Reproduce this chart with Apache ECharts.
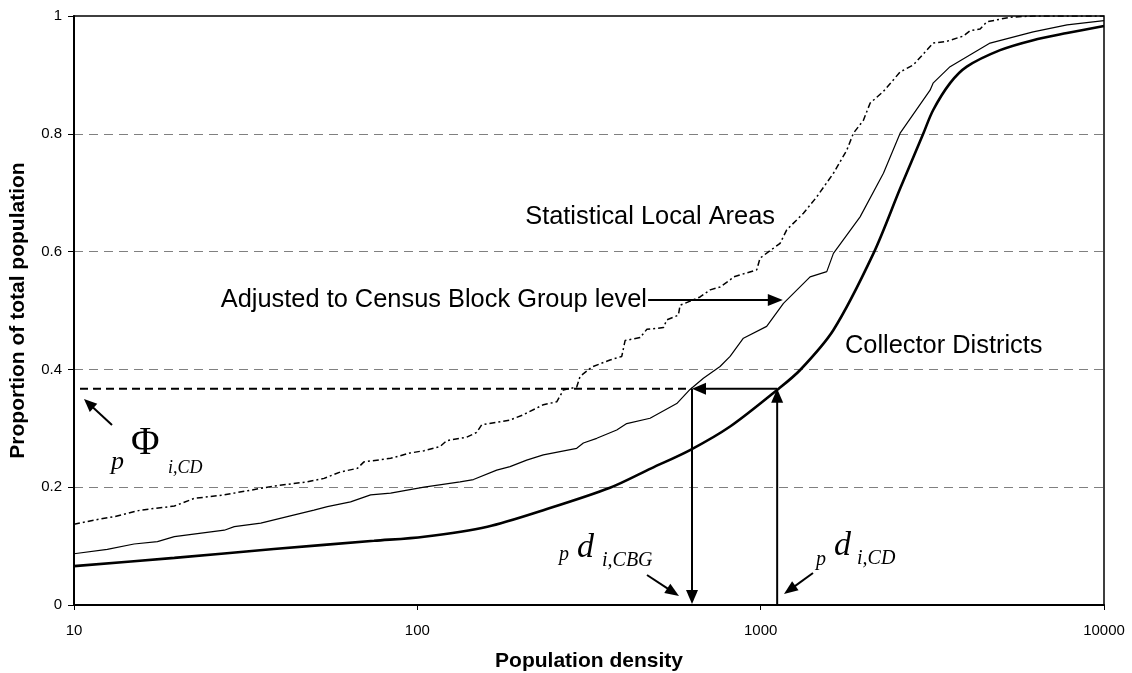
<!DOCTYPE html>
<html>
<head>
<meta charset="utf-8">
<script src="https://cdn.jsdelivr.net/npm/echarts@6/dist/echarts.min.js"></script>
<style>
html,body{margin:0;padding:0;background:#fff;}
#main{width:1132px;height:673px;}
</style>
</head>
<body>
<div id="main"></div>
<script>
// ---- data ----
const xTickValues = [10, 100, 1000, 10000];
const xTickLabels = ['10', '100', '1000', '10000'];
const yTickLabels = ['0', '0.2', '0.4', '0.6', '0.8', '1'];

// Statistical Local Areas  [population density, proportion]
const slaPoints = [[10,0.137],[11.4,0.144],[13.1,0.150],[15.6,0.161],[19.6,0.168],[22.4,0.181],[27.4,0.187],[32.0,0.194],[38.2,0.202],[47.8,0.209],[53.5,0.215],[59.8,0.226],[66.9,0.232],[69.9,0.243],[83.6,0.249],[95.2,0.258],[104.6,0.262],[116.4,0.269],[121.8,0.279],[139.3,0.285],[148.9,0.293],[154.0,0.306],[186.2,0.314],[203.6,0.323],[232.8,0.340],[254.7,0.345],[266.3,0.365],[291.2,0.370],[297.8,0.388],[322.2,0.404],[364.1,0.416],[393.9,0.422],[402.8,0.449],[445.5,0.454],[465.9,0.468],[521,0.471],[532.8,0.484],[575.9,0.492],[582.4,0.509],[636.8,0.518],[666,0.523],[712.3,0.535],[761.6,0.540],[814.6,0.552],[833,0.557],[974,0.569],[996,0.589],[1139,0.614],[1191,0.637],[1332,0.665],[1457,0.693],[1629,0.733],[1781,0.772],[1863,0.801],[1992,0.823],[2083,0.852],[2278,0.872],[2548,0.905],[2786,0.917],[3178,0.954],[3483,0.957],[3895,0.966],[4074,0.975],[4357,0.978],[4555,0.990],[5327,0.998],[6217,1.0],[10000,1.0]];

// Adjusted to Census Block Group level
const cbgPoints = [[10,0.087],[12.5,0.0945],[14.96,0.1036],[17.5,0.1075],[19.6,0.116],[27.4,0.127],[29.3,0.133],[35.0,0.139],[41.8,0.150],[50.0,0.161],[54.7,0.167],[63.9,0.175],[73.1,0.187],[83.6,0.190],[95.2,0.196],[104.6,0.200],[133.2,0.209],[145.7,0.213],[170.3,0.229],[186.2,0.235],[208.2,0.246],[232.8,0.255],[291.2,0.266],[304.5,0.275],[333.1,0.283],[380.9,0.297],[407.3,0.308],[476.2,0.317],[569.6,0.342],[622.7,0.366],[681,0.385],[761.6,0.405],[814.6,0.422],[890.6,0.453],[1041,0.473],[1165,0.512],[1393,0.557],[1558,0.566],[1629,0.597],[1948,0.659],[2278,0.733],[2548,0.801],[3115,0.874],[3178,0.886],[3562,0.914],[4658,0.954],[6217,0.973],[7806,0.985],[10000,0.992]];

// Collector Districts
const cdPoints = [[10,0.066],[19.6,0.080],[38.2,0.095],[74.8,0.109],[104.6,0.116],[160,0.133],[232.8,0.161],[364,0.199],[480,0.232],[622.7,0.263],[814.6,0.303],[1116,0.365],[1303,0.399],[1629,0.467],[2131,0.597],[2548,0.707],[2979,0.801],[3178,0.840],[3562,0.886],[3985,0.914],[4982,0.942],[6217,0.959],[7806,0.971],[10000,0.983]];

// annotation values
const levelPhi = 0.367;   // pΦ_i,CD
const dCBG = 631;         // pd_i,CBG
const dCD = 1117;         // pd_i,CD

const SANS = 'Liberation Sans, Arial, sans-serif';
const SERIF = 'Liberation Serif, Times New Roman, serif';

const option = {
  animation: false,
  backgroundColor: '#ffffff',
  grid: { left: 74, right: 28, top: 16, bottom: 68, containLabel: false, outerBoundsMode: 'none',
          show: true, borderColor: '#000', borderWidth: 1.5, backgroundColor: 'transparent' },
  xAxis: {
    type: 'log', logBase: 10, min: 10, max: 10000,
    name: 'Population density', nameLocation: 'middle', nameGap: 46,
    nameTextStyle: { fontFamily: SANS, fontWeight: 'bold', fontSize: 21, color: '#000' },
    axisLine: { show: true, onZero: false, lineStyle: { color: '#000', width: 2 } },
    axisTick: { show: true, length: 5, lineStyle: { color: '#000', width: 1 } },
    minorTick: { show: false },
    axisLabel: {
      margin: 18, fontFamily: SANS, fontSize: 15, color: '#000',
      formatter: function (v) {
        const k = xTickValues.findIndex(t => Math.abs(t - v) / t < 1e-6);
        return k >= 0 ? xTickLabels[k] : '';
      }
    },
    splitLine: { show: false }
  },
  yAxis: {
    type: 'value', min: 0, max: 1, interval: 0.2,
    name: 'Proportion of total population', nameLocation: 'middle', nameGap: 45,
    nameTextStyle: { fontFamily: SANS, fontWeight: 'bold', fontSize: 21, color: '#000' },
    axisLine: { show: true, lineStyle: { color: '#000', width: 2 } },
    axisTick: { show: true, length: 6, lineStyle: { color: '#000', width: 1 } },
    axisLabel: {
      margin: 12, fontFamily: SANS, fontSize: 15, color: '#000',
      formatter: function (v) { return yTickLabels[Math.round(v / 0.2)]; }
    },
    splitLine: { show: true, showMinLine: false, showMaxLine: false, lineStyle: { color: '#808080', width: 1, type: [9, 6] } }
  },
  series: [
    { name: 'Statistical Local Areas', type: 'line', data: slaPoints, showSymbol: false, symbol: 'none', silent: true,
      lineStyle: { color: '#000', width: 1.5, type: [6, 3, 2, 3] } },
    { name: 'Adjusted to Census Block Group level', type: 'line', data: cbgPoints, showSymbol: false, symbol: 'none', silent: true,
      lineStyle: { color: '#000', width: 1.2 } },
    { name: 'Collector Districts', type: 'line', data: cdPoints, showSymbol: false, symbol: 'none', silent: true,
      smooth: 0.3, lineStyle: { color: '#000', width: 2.6 } }
  ]
};

const chart = echarts.init(document.getElementById('main'), null, { renderer: 'canvas' });
chart.setOption(option);

const toPx = p => chart.convertToPixel({ xAxisIndex: 0, yAxisIndex: 0 }, p);

function arrow(p1, p2, headLen, headW, width) {
  const dx = p2[0] - p1[0], dy = p2[1] - p1[1];
  const len = Math.sqrt(dx * dx + dy * dy);
  const ux = dx / len, uy = dy / len;
  const bx = p2[0] - ux * headLen, by = p2[1] - uy * headLen;
  const px = -uy, py = ux;
  return [
    { type: 'line', z: 100, silent: true,
      shape: { x1: p1[0], y1: p1[1], x2: bx + ux, y2: by + uy },
      style: { stroke: '#000', lineWidth: width } },
    { type: 'polygon', z: 100, silent: true,
      shape: { points: [[p2[0], p2[1]], [bx + px * headW / 2, by + py * headW / 2], [bx - px * headW / 2, by - py * headW / 2]] },
      style: { fill: '#000' } }
  ];
}

function txt(text, x, y, font, align) {
  return { type: 'text', z: 100, silent: true, x: x, y: y,
    style: { text: text, font: font, fill: '#000', align: align || 'left', verticalAlign: 'middle' } };
}

const pLevelStart = toPx([10, levelPhi]);
const pCBG = toPx([dCBG, levelPhi]);
const pCD = toPx([dCD, levelPhi]);
const pCBG0 = toPx([dCBG, 0]);
const pCD0 = toPx([dCD, 0]);

let g = [];
// dashed level line
g.push({ type: 'line', z: 99, silent: true,
  shape: { x1: pLevelStart[0] + 6, y1: pLevelStart[1], x2: pCBG[0], y2: pCBG[1] },
  style: { stroke: '#000', lineWidth: 2, lineDash: [8, 5] } });
// main arrows
g = g.concat(arrow(pCD, pCBG, 14, 12, 2));
g = g.concat(arrow(pCBG, [pCBG0[0], pCBG0[1] - 1], 14, 12, 2));
g = g.concat(arrow(pCD0, pCD, 14, 12, 2));
// label pointer for CBG curve
g = g.concat(arrow(toPx([470, 0.518]), toPx([1160, 0.518]), 15, 12, 2));
// small pointers
g = g.concat(arrow([112, 425], [84, 399], 13, 11, 2));
g = g.concat(arrow([647, 575], [679, 596], 14, 11, 2));
g = g.concat(arrow([813, 573], [784, 594], 14, 11, 2));

// labels
const annFont = '25.4px ' + SANS;
g.push(txt('Statistical Local Areas', 775, 217, annFont, 'right'));
g.push(txt('Adjusted to Census Block Group level', 647, 300, annFont, 'right'));
g.push(txt('Collector Districts', 845, 346, annFont, 'left'));

// pΦ i,CD
g.push(txt('p', 111, 462, 'italic 26px ' + SERIF));
g.push(txt('Φ', 131, 444, '39px ' + SERIF));
g.push(txt('i,CD', 168, 468, 'italic 18px ' + SERIF));
// pd i,CBG
g.push(txt('p', 559, 555, 'italic 20px ' + SERIF));
g.push(txt('d', 577, 548, 'italic 34px ' + SERIF));
g.push(txt('i,CBG', 602, 561, 'italic 20px ' + SERIF));
// pd i,CD
g.push(txt('p', 816, 560, 'italic 20px ' + SERIF));
g.push(txt('d', 834, 546, 'italic 34px ' + SERIF));
g.push(txt('i,CD', 857, 559, 'italic 20px ' + SERIF));

chart.setOption({ graphic: g });
</script>
</body>
</html>
